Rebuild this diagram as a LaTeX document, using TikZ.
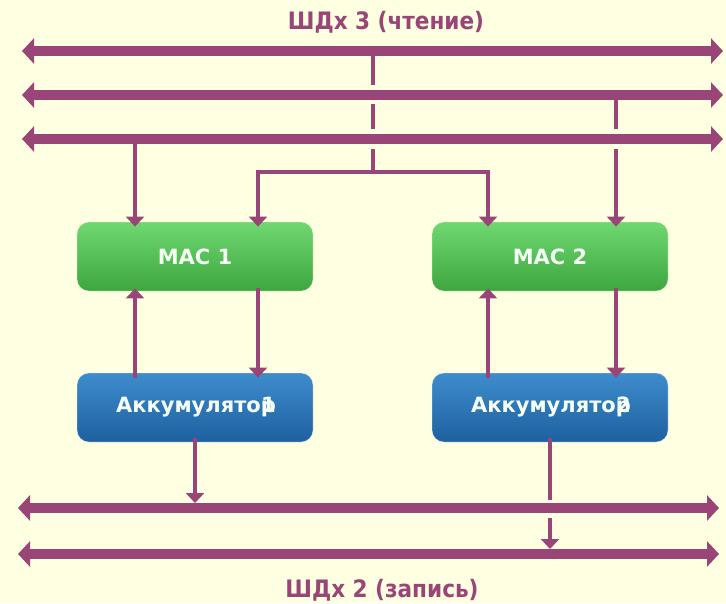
\documentclass[tikz,border=0pt]{standalone}
\usepackage{fontspec}
\setmainfont{DejaVu Sans}
\newfontfamily\condfont{DejaVu Sans Condensed}
\usetikzlibrary{arrows.meta}
\definecolor{bg}{RGB}{255,255,225}
\definecolor{bus}{RGB}{154,69,119}
\definecolor{gtop}{RGB}{112,216,112}
\definecolor{gbot}{RGB}{62,166,62}
\definecolor{btop}{RGB}{62,140,204}
\definecolor{bbot}{RGB}{30,96,160}
\begin{document}
\begin{tikzpicture}[x=1pt,y=-1pt,
  busline/.style={draw=bus, line width=10pt, {Triangle[length=12pt,width=25pt]}-{Triangle[length=12pt,width=25pt]}},
  wire/.style={draw=bus, line width=4.5pt},
  wirearrow/.style={wire, -{Triangle[length=10pt,width=18pt]}},
  box/.style={rounded corners=12pt, minimum width=236pt, minimum height=69pt, inner sep=0pt, text=white!96!green, font=\bfseries\fontsize{21}{25}\selectfont, draw=white, draw opacity=0.35, line width=0.8pt},
  macbox/.style={box, top color=gtop, bottom color=gbot},
  accbox/.style={box, top color=btop, bottom color=bbot},
  title/.style={text=bus, font=\condfont\bfseries\fontsize{24}{28}\selectfont}
]
\fill[bg] (0,0) rectangle (726,603);
\useasboundingbox (0,0) rectangle (726,603);

% titles
\node[title] (t3) at (386,22) {ШДх 3 (чтение)};
\node[title] (t2) at (382,590) {ШДх 2 (запись)};

% buses
\coordinate (b1L) at (22,51);  \coordinate (b1R) at (723,51);
\coordinate (b2L) at (22,95);  \coordinate (b2R) at (723,95);
\coordinate (b3L) at (22,139); \coordinate (b3R) at (723,139);
\coordinate (b4L) at (18,508); \coordinate (b4R) at (719,508);
\coordinate (b5L) at (18,554); \coordinate (b5R) at (719,554);
\foreach \b in {1,...,5} {\draw[busline] (b\b L) -- (b\b R);}

% boxes
\node[macbox] (mac1) at (195,256.5) {MAC 1};
\node[macbox] (mac2) at (550,256.5) {MAC 2};
\node[accbox] (acc1) at (195,407.5) {\hspace{2pt}Аккумулято\ooalign{р\cr\hidewidth1\hidewidth}};
\node[accbox] (acc2) at (550,407.5) {\hspace{2pt}Аккумулято\ooalign{р\cr\hidewidth2\hidewidth}};

% central wire from bus 1 (crossing buses 2 and 3)
\coordinate (j) at (373,172);
\draw[wire] (373,55) -- (373,85);
\draw[wire] (373,104) -- (373,129);
\draw[wire] (373,149) -- (j);
\draw[wirearrow] (j) -| ([xshift=63pt,yshift=-5pt]mac1.north);
\draw[wirearrow] (j) -| ([xshift=-62pt,yshift=-5pt]mac2.north);

% bus 3 -> MAC 1
\draw[wirearrow] (135,143) -- ([xshift=-60pt,yshift=-5pt]mac1.north);
% bus 2 -> MAC 2 (crossing bus 3)
\draw[wire] (616,99) -- (616,129);
\draw[wirearrow] (616,149) -- ([xshift=66pt,yshift=-5pt]mac2.north);

% MAC <-> accumulators
\draw[wirearrow] ([xshift=-60pt,yshift=-5pt]acc1.north) -- ([xshift=-60pt,yshift=3pt]mac1.south);
\draw[wirearrow] ([xshift=63pt,yshift=3pt]mac1.south) -- ([xshift=63pt,yshift=-5pt]acc1.north);
\draw[wirearrow] ([xshift=-62pt,yshift=-5pt]acc2.north) -- ([xshift=-62pt,yshift=3pt]mac2.south);
\draw[wirearrow] ([xshift=66pt,yshift=3pt]mac2.south) -- ([xshift=66pt,yshift=-5pt]acc2.north);

% accumulators -> write buses
\draw[wirearrow] ([yshift=4pt]acc1.south) -- (195,503);
\draw[wire] ([yshift=4pt]acc2.south) -- (550,500);
\draw[wirearrow] (550,518) -- (550,549);
\end{tikzpicture}
\end{document}
